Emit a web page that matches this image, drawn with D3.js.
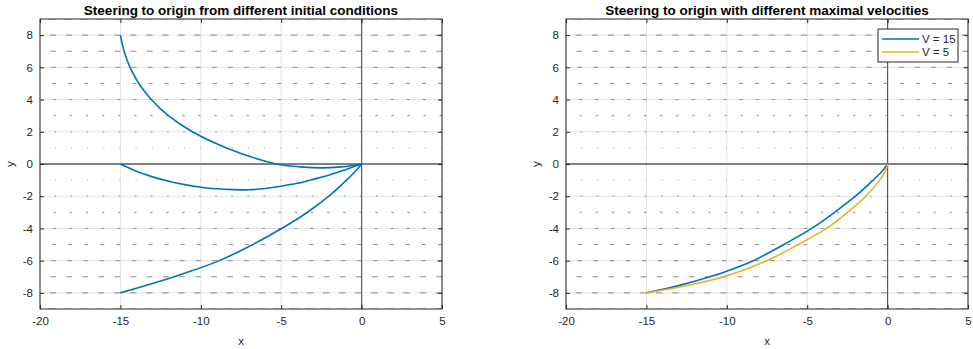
<!DOCTYPE html>
<meta charset="utf-8">
<head>
  <title>Steering to origin</title>
</head>

<style>
body { margin: 0; background: #fff; }
svg text { font-family: "Liberation Sans", Arial, Helvetica, sans-serif; }
.tick text { font-size: 11.5px; fill: #262626; }
.title { font-size: 13.5px; font-weight: bold; fill: #000; }
.lbl { font-size: 11.5px; fill: #262626; }
</style>

<body>
  <svg width="973" height="349"></svg>

  <script src="https://cdn.jsdelivr.net/npm/d3@7/dist/d3.min.js"></script>
  <script>
var xTicks = [-20, -15, -10, -5, 0, 5];
var yTicks = [-8, -6, -4, -2, 0, 2, 4, 6, 8];

// quiver field: base columns, rows, horizontal component per row
var quiverX = [-19, -18, -17, -16, -15, -14, -13, -12, -11, -10, -9, -8, -7, -6, -5, -4, -3, -2, -1, 0, 1, 2, 3, 4, 5];
var quiverY = [-9, -8, -7, -6, -5, -4, -3, -2, -1, 1, 2, 3, 4, 5, 6, 7, 8, 9];
var quiverU = [-0.45, -0.4, -0.35, -0.3, -0.25, -0.2, -0.15, -0.1, -0.05, -0.05, -0.1, -0.15, -0.2, -0.25, -0.3, -0.35, -0.4, -0.45];

// left panel trajectories
var pathA_x = [-15, -14.77, -14.4, -13.85, -13.08, -12.02, -10.52, -8.4, -5.3, -3.8, -2.5, -1.3, -0.5, 0];
var pathA_y = [8, 7, 6, 5, 4, 3, 2, 1, 0, -0.18, -0.24, -0.18, -0.08, 0];
var pathB_x = [-15, -14, -13, -12, -11, -10, -9, -8, -7, -6, -5, -4, -3, -2, -1, 0];
var pathB_y = [0, -0.45, -0.8, -1.07, -1.28, -1.44, -1.54, -1.59, -1.6, -1.52, -1.38, -1.2, -0.95, -0.68, -0.35, 0];
var pathC_x = [-15, -13, -11, -9, -7, -5, -3.5, -2, -1, -0.4, 0];
var pathC_y = [-8, -7.42, -6.78, -6.06, -5.12, -4.02, -3.09, -1.965, -1.065, -0.465, 0];

// right panel trajectories
var v15_x = [-15, -13, -11.05, -10, -8.35, -6.45, -4.72, -3.3, -2.0, -0.9, -0.3, 0];
var v15_y = [-8, -7.55, -7, -6.65, -6, -5, -4, -3, -2, -1, -0.4, 0];
var v5_x = [-15, -13, -10.2, -7.52, -5.55, -3.79, -2.5, -1.35, -0.5, -0.1, 0];
var v5_y = [-8, -7.65, -7, -6, -5, -4, -3, -2, -1, -0.35, 0];

var panels = [
  { left: 40, title: "Steering to origin from different initial conditions",
    series: [[pathA_x, pathA_y, "#0072BD"], [pathB_x, pathB_y, "#0072BD"], [pathC_x, pathC_y, "#0072BD"]],
    legend: null },
  { left: 566, title: "Steering to origin with different maximal velocities",
    series: [[v15_x, v15_y, "#0072BD"], [v5_x, v5_y, "#EDB120"]],
    legend: ["V = 15", "V = 5"] }
];

var W = 402, plotTop = 19, H = 290;
var svg = d3.select("svg");
var plainNum = function(d) { return String(d); };

panels.forEach(function(p, pi) {
  var x = d3.scaleLinear().domain([-20, 5]).range([p.left, p.left + W]);
  var y = d3.scaleLinear().domain([-9, 9]).range([plotTop + H, plotTop]);
  var g = svg.append("g");
  var clipId = "clip" + pi;
  g.append("clipPath").attr("id", clipId).append("rect")
    .attr("x", p.left).attr("y", plotTop).attr("width", W).attr("height", H);

  // grid
  g.append("g").selectAll("line").data(xTicks).enter().append("line")
    .attr("x1", function(d) { return x(d); }).attr("x2", function(d) { return x(d); })
    .attr("y1", plotTop).attr("y2", plotTop + H)
    .attr("stroke", "#e3e3e3").attr("stroke-width", 1);
  g.append("g").selectAll("line").data(yTicks).enter().append("line")
    .attr("y1", function(d) { return y(d); }).attr("y2", function(d) { return y(d); })
    .attr("x1", p.left).attr("x2", p.left + W)
    .attr("stroke", "#e3e3e3").attr("stroke-width", 1);

  // quiver
  var qg = g.append("g").attr("clip-path", "url(#" + clipId + ")");
  quiverY.forEach(function(yy, ri) {
    qg.selectAll(null).data(quiverX).enter().append("line")
      .attr("x1", function(d) { return x(d); })
      .attr("x2", function(d) { return x(d + quiverU[ri]); })
      .attr("y1", y(yy)).attr("y2", y(yy))
      .attr("stroke", "#8c8c8c").attr("stroke-width", 1);
  });

  // zero lines
  g.append("line").attr("x1", p.left).attr("x2", p.left + W)
    .attr("y1", y(0)).attr("y2", y(0))
    .attr("stroke", "#5a5a5a").attr("stroke-width", 1.6);
  g.append("line").attr("x1", x(0)).attr("x2", x(0))
    .attr("y1", plotTop).attr("y2", plotTop + H)
    .attr("stroke", "#5a5a5a").attr("stroke-width", 1.2);

  // curves
  var line = d3.line()
    .x(function(d) { return x(d[0]); })
    .y(function(d) { return y(d[1]); })
    .curve(d3.curveCatmullRom.alpha(0.5));
  p.series.forEach(function(s) {
    g.append("path")
      .datum(s[0].map(function(v, i) { return [v, s[1][i]]; }))
      .attr("d", line)
      .attr("fill", "none").attr("stroke", s[2]).attr("stroke-width", 1.6);
  });

  // axes
  g.append("g").attr("transform", "translate(0," + (plotTop + H) + ")")
    .call(d3.axisBottom(x).tickValues(xTicks).tickSize(-4).tickPadding(8).tickFormat(plainNum))
    .call(function(a) { a.select(".domain").remove(); });
  g.append("g").attr("transform", "translate(0," + plotTop + ")")
    .call(d3.axisTop(x).tickValues(xTicks).tickSize(-4).tickFormat(""))
    .call(function(a) { a.select(".domain").remove(); });
  g.append("g").attr("transform", "translate(" + p.left + ",0)")
    .call(d3.axisLeft(y).tickValues(yTicks).tickSize(-4).tickPadding(7).tickFormat(plainNum))
    .call(function(a) { a.select(".domain").remove(); });
  g.append("g").attr("transform", "translate(" + (p.left + W) + ",0)")
    .call(d3.axisRight(y).tickValues(yTicks).tickSize(-4).tickFormat(""))
    .call(function(a) { a.select(".domain").remove(); });
  g.selectAll(".tick line").attr("stroke", "#262626");

  g.append("rect").attr("x", p.left).attr("y", plotTop).attr("width", W).attr("height", H)
    .attr("fill", "none").attr("stroke", "#262626").attr("stroke-width", 1);

  // labels
  g.append("text").attr("class", "title")
    .attr("x", p.left + W / 2).attr("y", 15).attr("text-anchor", "middle").text(p.title);
  g.append("text").attr("class", "lbl")
    .attr("x", p.left + W / 2).attr("y", 345).attr("text-anchor", "middle").text("x");
  g.append("text").attr("class", "lbl")
    .attr("transform", "translate(" + (p.left - 26) + "," + y(0) + ") rotate(-90)")
    .attr("text-anchor", "middle").text("y");

  // legend
  if (p.legend) {
    var lx = p.left + W - 90, ly = plotTop + 10;
    var lg = g.append("g");
    lg.append("rect").attr("x", lx).attr("y", ly).attr("width", 80).attr("height", 33)
      .attr("fill", "#fff").attr("stroke", "#262626").attr("stroke-width", 1);
    p.legend.forEach(function(name, i) {
      var yy = ly + 10 + i * 13;
      lg.append("line").attr("x1", lx + 4).attr("x2", lx + 41)
        .attr("y1", yy).attr("y2", yy)
        .attr("stroke", p.series[i][2]).attr("stroke-width", 1.6);
      lg.append("text").attr("class", "lbl").attr("x", lx + 44).attr("y", yy + 4).text(name);
    });
  }
});
  </script>
</body>
</html>
